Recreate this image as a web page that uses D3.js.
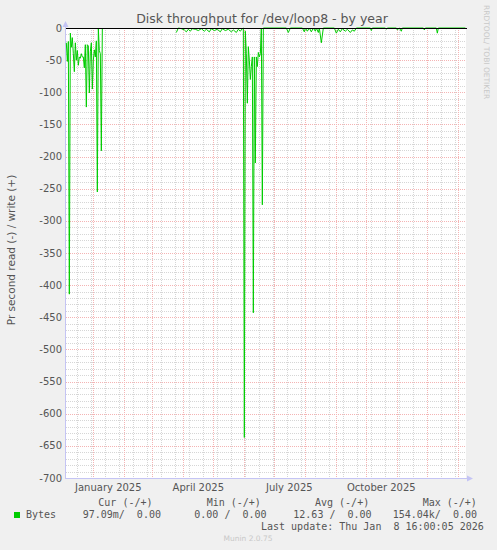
<!DOCTYPE html>
<html>
<head>
<meta charset="utf-8">
<script src="https://cdn.jsdelivr.net/npm/d3@7"></script>
<style>
  body { margin: 0; background: #f0f0f0; }
  text { font-family: "DejaVu Sans", sans-serif; fill: #555; }
  .mono { font-family: "DejaVu Sans Mono", monospace; white-space: pre; }
</style>
</head>
<body>
<div id="chart"></div>
<script>
// read values (bytes/s, negative side), one point per day as drawn
var readEarly = [
  ["2024-12-05", -23], ["2024-12-06", -52], ["2024-12-07", -21], ["2024-12-08", -414],
  ["2024-12-09", -8], ["2024-12-10", -30], ["2024-12-11", -15], ["2024-12-12", -40],
  ["2024-12-13", -68], ["2024-12-14", -23], ["2024-12-15", -50], ["2024-12-16", -35],
  ["2024-12-17", -58], ["2024-12-18", -45], ["2024-12-19", -47], ["2024-12-20", -40],
  ["2024-12-21", -45], ["2024-12-22", -45], ["2024-12-23", -62], ["2024-12-24", -26],
  ["2024-12-25", -123], ["2024-12-26", -26], ["2024-12-27", -28], ["2024-12-28", -101],
  ["2024-12-29", -37], ["2024-12-30", -23], ["2024-12-31", -95], ["2025-01-01", -50],
  ["2025-01-02", -34], ["2025-01-03", -45], ["2025-01-04", -20], ["2025-01-05", -255],
  ["2025-01-06", 0], ["2025-01-07", -35], ["2025-01-08", -40], ["2025-01-09", -191],
  ["2025-01-10", 0]
]

var readSpring = [
  ["2025-03-25", -7], ["2025-03-27", 0], ["2025-03-30", -1], ["2025-04-02", -3],
  ["2025-04-04", -6], ["2025-04-06", -2], ["2025-04-08", -5], ["2025-04-10", -1],
  ["2025-04-13", -2], ["2025-04-16", -4], ["2025-04-19", -1], ["2025-04-22", -5],
  ["2025-04-24", -2], ["2025-04-27", -6], ["2025-04-29", -1], ["2025-05-02", -4],
  ["2025-05-05", -2], ["2025-05-08", -6], ["2025-05-10", -1], ["2025-05-13", -4],
  ["2025-05-16", -2], ["2025-05-19", -6], ["2025-05-21", -3], ["2025-05-24", -7],
  ["2025-05-26", -2], ["2025-05-28", -5], ["2025-05-30", -1], ["2025-05-31", 0]
]

var readJune = [
  ["2025-06-01", -637], ["2025-06-02", -5], ["2025-06-03", -40], ["2025-06-04", -117],
  ["2025-06-05", -29], ["2025-06-06", -50], ["2025-06-07", -80], ["2025-06-08", -60],
  ["2025-06-09", -45], ["2025-06-10", -443], ["2025-06-11", -45], ["2025-06-12", -210],
  ["2025-06-13", -45], ["2025-06-14", -60], ["2025-06-15", -38], ["2025-06-16", -45],
  ["2025-06-17", -40], ["2025-06-18", 0], ["2025-06-19", -275], ["2025-06-20", 0]
]

var readLate = [
  ["2025-07-13", 0], ["2025-07-15", -7], ["2025-07-17", 0], ["2025-07-29", 0],
  ["2025-07-31", -6], ["2025-08-01", 0], ["2025-08-03", -5], ["2025-08-05", 0],
  ["2025-08-07", -6], ["2025-08-09", 0], ["2025-08-11", -5], ["2025-08-12", 0],
  ["2025-08-14", -7], ["2025-08-15", 0], ["2025-08-17", -23], ["2025-08-19", 0],
  ["2025-08-30", 0], ["2025-09-01", -8], ["2025-09-03", -2], ["2025-09-05", -6],
  ["2025-09-07", -1], ["2025-09-10", -5], ["2025-09-12", -2], ["2025-09-15", -7],
  ["2025-09-17", -3], ["2025-09-19", -5], ["2025-09-21", 0], ["2025-10-05", 0],
  ["2025-10-06", -4], ["2025-10-07", 0], ["2025-10-20", 0], ["2025-10-21", -2],
  ["2025-10-22", 0], ["2025-10-31", 0], ["2025-11-01", -3], ["2025-11-03", 0],
  ["2025-11-05", -5], ["2025-11-06", 0], ["2025-11-27", 0], ["2025-11-28", -3],
  ["2025-11-29", 0], ["2025-12-10", 0], ["2025-12-11", -8], ["2025-12-12", 0],
  ["2026-01-08", 0]
]

var yTicks = [0, -50, -100, -150, -200, -250, -300, -350, -400, -450, -500, -550, -600, -650, -700]

var legendHead = ["Cur (-/+)", "Min (-/+)", "Avg (-/+)", "Max (-/+)"]
var legendVals = ["97.09m/  0.00", "0.00 /  0.00", "12.63 /  0.00", "154.04k/  0.00"]
var lastUpdate = "Last update: Thu Jan  8 16:00:05 2026"

var parse = d3.timeParse("%Y-%m-%d")
var start = new Date(2024, 11, 4, 16, 0, 5)
var end = new Date(2026, 0, 8, 16, 0, 5)

var W = 497, H = 550
var L = 66, R = 466, T = 28, B = 478

var svg = d3.select("#chart").append("svg").attr("width", W).attr("height", H)
svg.append("rect").attr("width", W).attr("height", H).attr("fill", "#f0f0f0")

var x = d3.scaleTime().domain([start, end]).range([L, R])
var y = d3.scaleLinear().domain([-700, 0]).range([B, T])

svg.append("rect").attr("x", L).attr("y", T).attr("width", R - L).attr("height", B - T).attr("fill", "#fff")

var grid = svg.append("g")
var minorCol = "#d6d6d6", majorCol = "#f4b4b4"

// minor grid: every 10 units, every other week
d3.range(-700, 1, 10).forEach(function(v){
  grid.append("line").attr("x1", L).attr("x2", R).attr("y1", Math.round(y(v)) + .5).attr("y2", Math.round(y(v)) + .5)
    .attr("stroke", minorCol).attr("stroke-dasharray", "1,1")
})
var ref = new Date(2025, 6, 28)
d3.timeMonday.range(start, end).filter(function(d){
  return Math.abs(Math.round((d - ref) / (7 * 864e5))) % 2 == 0
}).forEach(function(d){
  grid.append("line").attr("y1", T).attr("y2", B).attr("x1", Math.round(x(d)) + .5).attr("x2", Math.round(x(d)) + .5)
    .attr("stroke", minorCol).attr("stroke-dasharray", "1,1")
})

// major grid
yTicks.forEach(function(v){
  grid.append("line").attr("x1", L).attr("x2", R).attr("y1", Math.round(y(v)) + .5).attr("y2", Math.round(y(v)) + .5)
    .attr("stroke", majorCol).attr("stroke-dasharray", "1,1")
})
d3.timeMonth.range(start, end).forEach(function(d){
  grid.append("line").attr("y1", T).attr("y2", B).attr("x1", Math.round(x(d)) + .5).attr("x2", Math.round(x(d)) + .5)
    .attr("stroke", majorCol).attr("stroke-dasharray", "1,1")
})

// y labels
svg.append("g").selectAll("text").data(yTicks).join("text")
  .attr("x", 62).attr("y", function(d){ return y(d) + 3.5 })
  .attr("text-anchor", "end").attr("font-size", 10)
  .text(function(d){ return d })

// x labels, quarterly, centered in the month
var fmt = d3.timeFormat("%B %Y")
svg.append("g").selectAll("text")
  .data(d3.timeMonth.range(start, d3.timeMonth.offset(end, -1)).filter(function(d){ return d.getMonth() % 3 == 0 }))
  .join("text")
  .attr("x", function(d){ return x(d3.timeDay.offset(d, 15)) })
  .attr("y", 491).attr("text-anchor", "middle").attr("font-size", 10)
  .text(fmt)

// axes
var axisCol = "#c4c4f4"
svg.append("line").attr("x1", L - .5).attr("x2", L - .5).attr("y1", T - 4).attr("y2", B).attr("stroke", axisCol)
svg.append("line").attr("x1", L - 1).attr("x2", R + 2).attr("y1", B + .5).attr("y2", B + .5).attr("stroke", axisCol)
svg.append("path").attr("d", "M" + (L - 3.5) + "," + (T - 1) + "L" + (L - .5) + "," + (T - 7) + "L" + (L + 2.5) + "," + (T - 1) + "Z").attr("fill", axisCol)
svg.append("path").attr("d", "M" + (R + 1) + "," + (B - 2.5) + "L" + (R + 7) + "," + (B + .5) + "L" + (R + 1) + "," + (B + 3.5) + "Z").attr("fill", axisCol)

// read series
var line = d3.line()
  .x(function(d){ return x(parse(d[0])) })
  .y(function(d){ return y(d[1]) })

var series = svg.append("g").attr("fill", "none").attr("stroke", "#00cc00").attr("stroke-width", 1)
;[readEarly, readSpring.concat(readJune, readLate)].forEach(function(seg){
  series.append("path").attr("d", line(seg))
})

// zero line
svg.append("line").attr("x1", L).attr("x2", R + 1).attr("y1", y(0) + .5).attr("y2", y(0) + .5).attr("stroke", "#000")

// title
svg.append("text").attr("x", 262).attr("y", 23).attr("text-anchor", "middle").attr("font-size", 12.5)
  .text("Disk throughput for /dev/loop8 - by year")

svg.append("text").attr("transform", "translate(15," + 250 + ") rotate(-90)")
  .attr("text-anchor", "middle").attr("font-size", 10.5)
  .text("Pr second read (-) / write (+)")

svg.append("text").attr("transform", "translate(484,5) rotate(90)")
  .attr("font-size", 7.5).style("fill", "#c8c8c8")
  .text("RRDTOOL/ TOBI OETIKER")

// legend
var headX = [98.3, 206.7, 315, 422.7]
var valX = [82.7, 194.3, 293.3, 392.7]
svg.append("rect").attr("x", 14).attr("y", 512).attr("width", 6).attr("height", 6).attr("fill", "#00cc00")
svg.append("text").attr("class", "mono").attr("x", 26).attr("y", 518).attr("font-size", 10).text("Bytes")
legendHead.forEach(function(t, i){
  svg.append("text").attr("class", "mono").attr("x", headX[i]).attr("y", 506).attr("font-size", 10).text(t)
})
legendVals.forEach(function(t, i){
  svg.append("text").attr("class", "mono").attr("x", valX[i]).attr("y", 518).attr("font-size", 10).text(t)
})
svg.append("text").attr("class", "mono").attr("x", 261).attr("y", 530).attr("font-size", 10).text(lastUpdate)

svg.append("text").attr("x", 248).attr("y", 541).attr("text-anchor", "middle").attr("font-size", 7.5)
  .style("fill", "#c8c8c8").text("Munin 2.0.75")
</script>
</body>
</html>
